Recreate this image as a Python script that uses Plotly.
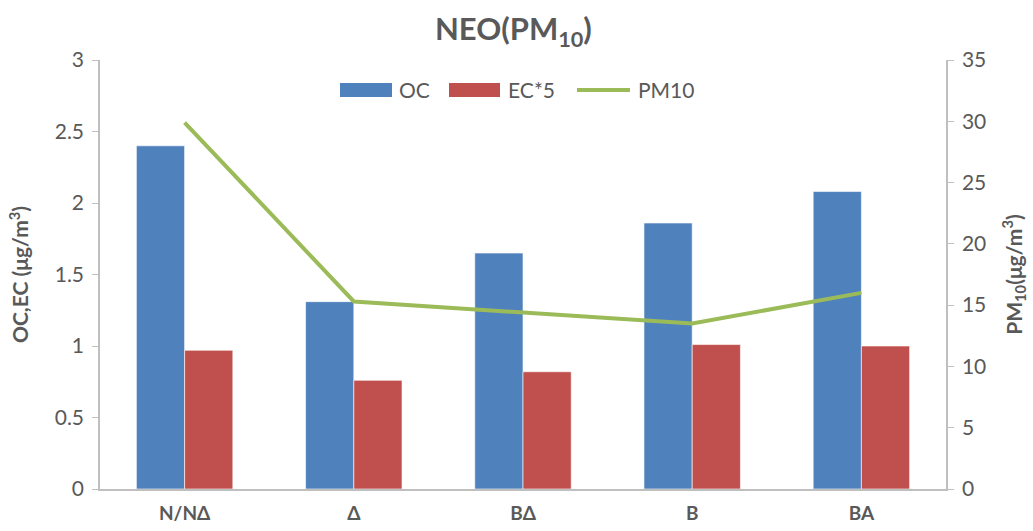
import plotly.graph_objects as go

# Sampling sites and measured concentrations
categories = ["N/NΔ", "Δ", "BΔ", "B", "BA"]
oc_values = [2.40, 1.31, 1.65, 1.86, 2.08]
ec5_values = [0.97, 0.76, 0.82, 1.01, 1.00]
pm10_values = [29.9, 15.3, 14.4, 13.5, 16.0]

left_ticks = [0, 0.5, 1, 1.5, 2, 2.5, 3]
left_tick_text = ["0", "0.5", "1", "1.5", "2", "2.5", "3"]
right_ticks = [0, 5, 10, 15, 20, 25, 30, 35]

FONT = "Lato, 'Open Sans', sans-serif"
GREY = "#595959"
AXIS = "#BFBFBF"
BLUE, RED, GREEN = "#4F81BD", "#C0504D", "#9BBB59"

fig = go.Figure()
fig.add_trace(go.Bar(
    x=categories, y=oc_values, name="OC", showlegend=False,
    marker=dict(color=BLUE, line=dict(color="#FFFFFF", width=0.6)),
))
fig.add_trace(go.Bar(
    x=categories, y=ec5_values, name="EC*5", showlegend=False,
    marker=dict(color=RED, line=dict(color="#FFFFFF", width=0.6)),
))
fig.add_trace(go.Scatter(
    x=categories, y=pm10_values, name="PM10", yaxis="y2", showlegend=False,
    mode="lines", line=dict(color=GREEN, width=4),
))

# Legend drawn as shapes + labels in pixel-based paper coordinates
W, H = 1033, 531
L, R, T, B = 100, 87, 60, 42
pw, ph = W - L - R, H - T - B


def px(x):
    return (x - L) / pw


def py(y):
    return (H - B - y) / ph


shapes = [
    dict(type="rect", xref="paper", yref="paper",
         x0=px(340), x1=px(392), y0=py(97), y1=py(83),
         fillcolor=BLUE, line=dict(width=0)),
    dict(type="rect", xref="paper", yref="paper",
         x0=px(449), x1=px(500), y0=py(97), y1=py(83),
         fillcolor=RED, line=dict(width=0)),
    dict(type="line", xref="paper", yref="paper",
         x0=px(577), x1=px(630), y0=py(90), y1=py(90),
         line=dict(color=GREEN, width=4)),
]
legend_labels = [("OC", 397), ("EC*5", 506), ("PM10", 636)]
annotations = [
    dict(text=t, xref="paper", yref="paper", x=px(x0), y=py(90),
         xanchor="left", yanchor="middle", showarrow=False,
         font=dict(size=21, color=GREY, family=FONT))
    for t, x0 in legend_labels
]

fig.update_layout(
    width=W, height=H,
    margin=dict(l=L, r=R, t=T, b=B),
    paper_bgcolor="white", plot_bgcolor="white",
    font=dict(family=FONT, color=GREY, size=20),
    barmode="group", bargap=0.43, bargroupgap=0,
    showlegend=False,
    shapes=shapes, annotations=annotations,
    title=dict(
        text="<b>NEO(PM<sub>10</sub>)</b>",
        x=0.497, xanchor="center", y=0.945, yanchor="middle",
        font=dict(size=31, color=GREY, family=FONT),
    ),
    xaxis=dict(
        showline=True, linecolor=AXIS, linewidth=2,
        ticks="", showgrid=False, automargin=False,
        tickfont=dict(size=19, color=GREY, family=FONT),
        ticklabelstandoff=6,
        tickprefix="<b>", ticksuffix="</b>",
    ),
    yaxis=dict(
        range=[0, 3], tickvals=left_ticks, ticktext=left_tick_text,
        showline=True, linecolor=AXIS, linewidth=1.5,
        ticks="outside", ticklen=6, tickcolor=AXIS,
        showgrid=False, zeroline=False, automargin=False,
        tickfont=dict(size=21, color=GREY),
        ticklabelstandoff=4,
        title=dict(text="<b>OC,EC (μg/m<sup>3</sup>)</b>",
                   font=dict(size=21, color=GREY), standoff=20),
    ),
    yaxis2=dict(
        range=[0, 35], tickvals=right_ticks,
        overlaying="y", side="right", anchor="x",
        showline=True, linecolor=AXIS, linewidth=1.5,
        ticks="outside", ticklen=6, tickcolor=AXIS,
        showgrid=False, zeroline=False, automargin=False,
        tickfont=dict(size=21, color=GREY),
        ticklabelstandoff=4,
        title=dict(text="<b>PM<sub>10</sub>(μg/m<sup>3</sup>)</b>",
                   font=dict(size=21, color=GREY), standoff=22),
    ),
)

fig.write_html("out.html")
